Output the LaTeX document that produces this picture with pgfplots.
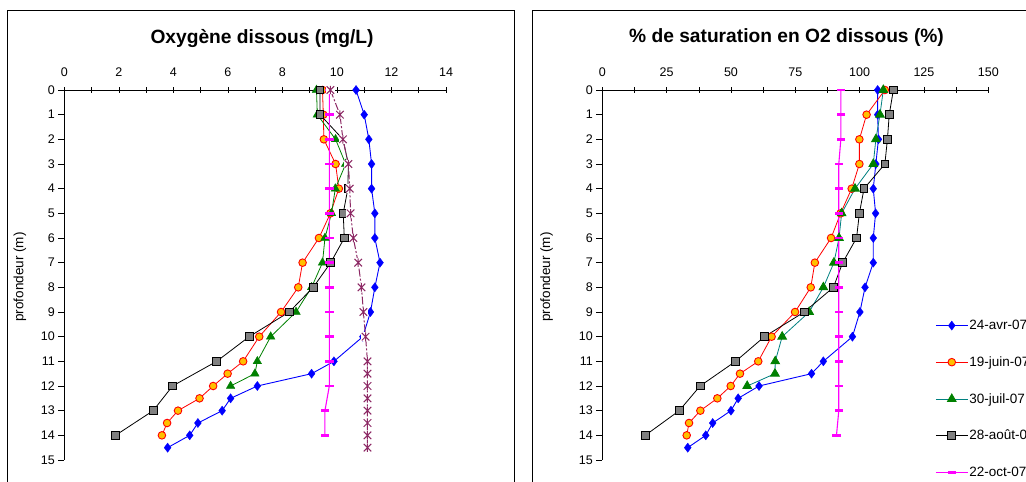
\documentclass[border=0pt]{standalone}
\usepackage{pgfplots}
\pgfplotsset{compat=1.18}
\usepackage{pgfplotstable}
\usepackage{fontspec}
\setmainfont{Liberation Sans}

\definecolor{serA}{RGB}{0,0,255}
\definecolor{serB}{RGB}{255,0,0}
\definecolor{serBfill}{RGB}{255,192,0}
\definecolor{serC}{RGB}{0,128,0}
\definecolor{serCline}{RGB}{0,128,128}
\definecolor{serDfill}{RGB}{128,128,128}
\definecolor{serE}{RGB}{255,0,255}
\definecolor{serF}{RGB}{140,40,100}

% star marker on a white square backing
\pgfdeclareplotmark{xlstar}{%
  \pgfscope
  \pgfpathrectangle{\pgfqpoint{-\pgfplotmarksize}{-\pgfplotmarksize}}{\pgfqpoint{2\pgfplotmarksize}{2\pgfplotmarksize}}%
  \pgfsetfillcolor{white}\pgfusepathqfill
  \endpgfscope
  \pgfpathmoveto{\pgfqpoint{-0.9\pgfplotmarksize}{-0.9\pgfplotmarksize}}%
  \pgfpathlineto{\pgfqpoint{0.9\pgfplotmarksize}{0.9\pgfplotmarksize}}%
  \pgfpathmoveto{\pgfqpoint{-0.9\pgfplotmarksize}{0.9\pgfplotmarksize}}%
  \pgfpathlineto{\pgfqpoint{0.9\pgfplotmarksize}{-0.9\pgfplotmarksize}}%
  \pgfpathmoveto{\pgfqpoint{0pt}{-\pgfplotmarksize}}%
  \pgfpathlineto{\pgfqpoint{0pt}{\pgfplotmarksize}}%
  \pgfusepathqstroke
}

% depth (m), dissolved oxygen (mg/L), saturation (%)
\pgfplotstableread{
d mg pct
0 10.70 107.0
1 11.00 107.0
2 11.17 107.3
3 11.27 106.3
4 11.27 105.3
5 11.39 106.2
6 11.39 105.3
7 11.58 105.3
8 11.39 102.1
9 11.23 100.1
10 10.95 97.2
11 9.89 85.9
11.5 9.07 81.3
12 7.08 60.9
12.5 6.10 52.8
13 5.79 50.0
13.5 4.90 42.9
14 4.60 40.2
14.5 3.79 33.2
}\avr

\pgfplotstableread{
d mg pct
0 9.47 109.8
1 9.50 102.7
2 9.52 99.9
3 9.95 99.9
4 10.07 96.9
5 9.76 92.6
6 9.34 88.9
7 8.74 82.6
8 8.58 81.0
9 7.95 74.9
10 7.15 65.8
11 6.56 60.6
11.5 5.99 53.5
12 5.46 49.9
12.5 4.96 44.7
13 4.17 38.1
13.5 3.77 33.7
14 3.58 32.8
}\juin

\pgfplotstableread{
d mg pct
0 9.25 109.2
1 9.28 107.9
2 9.95 106.3
3 10.32 105.3
4 9.94 98.2
5 9.80 93.0
6 9.56 92.0
7 9.47 90.0
8 9.07 85.9
9 8.50 80.4
10 7.57 69.9
11 7.08 67.2
11.5 6.99 67.1
12 6.10 56.3
}\juil

\pgfplotstableread{
d mg pct
0 9.38 113.1
1 9.38 111.5
2 10.22 110.8
3 10.42 109.8
4 10.40 101.7
5 10.23 99.9
6 10.27 98.8
7 9.77 93.4
8 9.13 89.8
9 8.25 78.5
10 6.78 63.0
11 5.59 51.8
12 3.97 38.0
13 3.26 29.9
14 1.88 16.7
}\aout

\pgfplotstableread{
d mg pct
0 9.72 92.7
1 9.72 92.7
2 9.72 92.7
3 9.72 91.9
4 9.72 91.9
5 9.72 91.9
6 9.72 91.9
7 9.72 91.9
8 9.72 91.9
9 9.72 91.9
10 9.72 91.9
11 9.72 91.9
12 9.72 91.9
13 9.56 91.9
14 9.56 91.0
}\oct

\pgfplotstableread{
d mg
0 9.76
1 10.11
2 10.22
3 10.42
4 10.47
5 10.50
6 10.60
7 10.78
8 10.90
9 10.97
10 11.05
11 11.12
11.5 11.12
12 11.12
12.5 11.12
13 11.12
13.5 11.12
14 11.12
14.5 11.12
}\nov

\pgfplotsset{
  profil/.style={
    scale only axis, height=370pt,
    y dir=reverse, ymin=0, ymax=15, ytick={0,...,15},
    axis x line*=top, axis y line*=left,
    axis line style={black, line width=0.8pt, -},
    x tick style={black, line width=0.6pt},
    y tick style={black, line width=0.6pt},
    xtick align=center, ytick align=outside,
    minor x tick num=1,
    major tick length=6pt, minor tick length=6pt,
    tick label style={font=\fontsize{12.5}{14}\selectfont},
    xticklabel style={yshift=7pt},
    /pgf/number format/assume math mode=true,
    clip=false,
    legend image code/.code={
      \draw[mark repeat=2, mark phase=2] plot coordinates {(0pt,0pt) (16pt,0pt) (32pt,0pt)};
    },
  },
  serieA/.style={color=serA, line width=0.9pt, mark=diamond*, mark size=4.6pt,
    mark options={solid, fill=serA, draw=serA, line width=0.3pt}},
  serieB/.style={color=serB, line width=0.8pt, mark=*, mark size=3.8pt,
    mark options={solid, fill=serBfill, draw=serB, line width=0.9pt}},
  serieC/.style={color=serC, line width=0.8pt, mark=triangle*, mark size=5pt,
    mark options={solid, fill=serC, draw=serC, line width=0.3pt}},
  serieD/.style={color=black, line width=0.8pt, mark=square*, mark size=3.9pt,
    mark options={solid, fill=serDfill, draw=black, line width=0.9pt}},
  serieE/.style={color=serE, line width=1.1pt, mark=-, mark size=4.2pt,
    mark options={solid, line width=2.6pt}},
  serieF/.style={color=serF, line width=1pt, dash pattern=on 8pt off 2pt on 2pt off 2pt,
    mark=xlstar, mark size=4.2pt, mark options={solid, line width=1pt}},
}

\begin{document}
\begin{tikzpicture}
\useasboundingbox (0,0) rectangle (1026pt,482pt);
\clip (0,0) rectangle (1026pt,482pt);

% panel frames
\draw[line width=1.2pt] (7.3pt,471.3pt) rectangle (514.3pt,-20pt);
\draw[line width=1.2pt] (532.3pt,471.3pt) rectangle (1060pt,-20pt);

% titles and depth labels
\node[font=\bfseries\fontsize{19.2}{22}\selectfont] at (262pt,444pt) {Oxygène dissous (mg/L)};
\node[font=\bfseries\fontsize{19.2}{22}\selectfont] at (786.5pt,444pt) {\% de saturation en O2 dissous (\%)};
\node[rotate=90, font=\fontsize{13.5}{16}\selectfont] at (20pt,205pt) {profondeur (m)};
\node[rotate=90, font=\fontsize{13.5}{16}\selectfont] at (546.7pt,205pt) {profondeur (m)};

% dissolved oxygen
\begin{axis}[profil, anchor=center, at={(255.15pt,207pt)}, width=381.7pt,
  xmin=0, xmax=14, xtick={0,2,...,14}]
\addplot[serieA] table[x=mg, y=d] {\avr};
\addplot[serieB] table[x=mg, y=d] {\juin};
\addplot[serieC] table[x=mg, y=d] {\juil};
\addplot[serieD] table[x=mg, y=d] {\aout};
\addplot[serieE] table[x=mg, y=d] {\oct};
\addplot[serieF] table[x=mg, y=d] {\nov};
\end{axis}

% oxygen saturation
\begin{axis}[profil, anchor=center, at={(795.3pt,207pt)}, width=386pt,
  xmin=0, xmax=150, xtick={0,25,...,150},
  legend style={at={(axis cs:129.3,9.28)}, anchor=north west, draw=none, fill=none,
    inner sep=0pt, row sep=23.5pt, font=\fontsize{13.5}{15}\selectfont,
    nodes={inner sep=1pt}},
  legend cell align=left]
\addplot[serieA] table[x=pct, y=d] {\avr};
\addlegendentry{24-avr-07}
\addplot[serieB] table[x=pct, y=d] {\juin};
\addlegendentry{19-juin-07}
\addplot[serieC, color=serCline, mark options={fill=serC, draw=serC}] table[x=pct, y=d] {\juil};
\addlegendentry{30-juil-07}
\addplot[serieD] table[x=pct, y=d] {\aout};
\addlegendentry{28-août-07}
\addplot[serieE] table[x=pct, y=d] {\oct};
\addlegendentry{22-oct-07}
\end{axis}
\end{tikzpicture}
\end{document}
